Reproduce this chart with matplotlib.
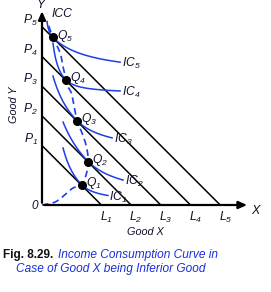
import numpy as np
import matplotlib.pyplot as plt

plt.rcParams['font.family'] = ['Liberation Sans', 'DejaVu Sans']
plt.rcParams['mathtext.fontset'] = 'custom'
plt.rcParams['mathtext.it'] = 'Liberation Sans:italic'
plt.rcParams['mathtext.rm'] = 'Liberation Sans:italic'

# budget lines: intercepts on Y (P1..P5) and X (L1..L5)
income = [2, 3, 4, 5, 6]
p_labels = ['$P_1$', '$P_2$', '$P_3$', '$P_4$', '$P_5$']
l_labels = ['$L_1$', '$L_2$', '$L_3$', '$L_4$', '$L_5$']

# equilibrium points Q1..Q5
q_x = [1.34, 1.56, 1.18, 0.81, 0.37]
q_y = [0.68, 1.46, 2.84, 4.21, 5.64]
q_labels = ['$Q_1$', '$Q_2$', '$Q_3$', '$Q_4$', '$Q_5$']

# indifference curves: left start and right end
ic_start_x = [0.71, 0.71, 0.37, 0.37, 0.17]
ic_start_y = [1.92, 2.79, 4.34, 5.45, 6.16]
ic_end_x = [2.22, 2.73, 2.36, 2.63, 2.63]
ic_end_y = [0.32, 0.84, 2.26, 3.84, 4.81]
ic_labels = ['$IC_1$', '$IC_2$', '$IC_3$', '$IC_4$', '$IC_5$']

# income consumption curve
icc_x = [0, 0.44, 0.77, 1.04, 1.34, 1.5, 1.56, 1.5, 1.35, 1.18, 1.01, 0.88, 0.81, 0.71, 0.61, 0.37, 0.17]
icc_y = [0, 0.1, 0.34, 0.57, 0.68, 1.07, 1.46, 1.95, 2.42, 2.84, 3.7, 3.97, 4.21, 4.65, 5.12, 5.64, 6.2]

blue = '#1c3fe6'
ink = '#10102a'
scale = 29.7  # pixels per unit
W, H = 271, 292
ox, oy = 42, 205

fig = plt.figure(figsize=(W / 100, H / 100), dpi=100)
ax = fig.add_axes([0, 0, 1, 1])
ax.set_xlim(-ox / scale, (W - ox) / scale)
ax.set_ylim(-(H - oy) / scale, oy / scale)
ax.axis('off')


def catmull(xs, ys, n=20):
    pts = np.column_stack([xs, ys]).astype(float)
    pts = np.vstack([pts[0], pts, pts[-1]])
    out = []
    t = np.linspace(0, 1, n)[:, None]
    for i in range(1, len(pts) - 2):
        p0, p1, p2, p3 = pts[i - 1], pts[i], pts[i + 1], pts[i + 2]
        seg = 0.5 * ((2 * p1) + (-p0 + p2) * t + (2 * p0 - 5 * p1 + 4 * p2 - p3) * t ** 2
                     + (-p0 + 3 * p1 - 3 * p2 + p3) * t ** 3)
        out.append(seg)
    out = np.vstack(out)
    return out[:, 0], out[:, 1]


def branch(qx, qy, px, py):
    # rectangular hyperbola with slope -1 at Q, passing through (px, py)
    dx, dy = px - qx, py - qy
    d = -dx * dy / (dx + dy)
    xs = np.linspace(qx, px, 60)
    u = xs - qx
    return xs, qy - u * d / (u + d)


# axes with arrows
ax.annotate('', xy=(7.0, 0), xytext=(-0.02, 0),
            arrowprops=dict(arrowstyle='-|>,head_length=0.5,head_width=0.22', color='black', lw=1.6))
ax.annotate('', xy=(0, 6.62), xytext=(0, -0.02),
            arrowprops=dict(arrowstyle='-|>,head_length=0.5,head_width=0.22', color='black', lw=1.6))
ax.text(7.2, -0.2, 'X', fontsize=9, style='italic', color=ink, ha='center', va='center')
ax.text(-0.05, 6.72, 'Y', fontsize=9, style='italic', color=ink, ha='center', va='center')
ax.text(-0.25, -0.05, '0', fontsize=8.5, style='italic', color=ink, ha='center', va='center')
ax.text(3.47, -0.9, 'Good X', fontsize=7.8, style='italic', color=ink, ha='center', va='center')
ax.text(-0.93, 3.37, 'Good Y', fontsize=7.8, style='italic', color=ink, ha='center', va='center',
        rotation=90)

# budget lines
for k, pl, ll in zip(income, p_labels, l_labels):
    ax.plot([0, k], [k, 0], color='black', lw=1.1, solid_capstyle='butt')
    ax.text(-0.38, k + 0.22, pl, fontsize=8.7, color=ink, ha='center', va='center')
    ax.text(k + 0.17, -0.42, ll, fontsize=8.7, color=ink, ha='center', va='center')

# indifference curves
for i in range(5):
    xl, yl = branch(q_x[i], q_y[i], ic_start_x[i], ic_start_y[i])
    xr, yr = branch(q_x[i], q_y[i], ic_end_x[i], ic_end_y[i])
    ax.plot(xl, yl, color=blue, lw=1.1)
    ax.plot(xr, yr, color=blue, lw=1.1)
    ax.text(ic_end_x[i] + 0.05, ic_end_y[i] - 0.05, ic_labels[i], fontsize=8.7, color=ink,
            ha='left', va='center')

# ICC
cx, cy = catmull(icc_x, icc_y)
ax.plot(cx, cy, color=blue, lw=1.2, ls=(0, (4, 2.5)))
ax.text(0.67, 6.42, 'ICC', fontsize=8.7, style='italic', color=ink, ha='center', va='center')

# equilibrium points
ax.plot(q_x, q_y, 'o', color='black', ms=5.5)
for x, y, lab in zip(q_x, q_y, q_labels):
    ax.text(x + 0.14, y + 0.05, lab, fontsize=8.7, color=ink, ha='left', va='center')

# caption
fig.text(3 / W, 1 - 255 / H, 'Fig. 8.29.', fontsize=8.5, weight='bold', color='#101018',
         ha='left', va='center')
fig.text(58 / W, 1 - 255 / H, 'Income Consumption Curve in', fontsize=8.6, style='italic',
         color='#1830d8', ha='left', va='center')
fig.text(16 / W, 1 - 269 / H, 'Case of Good X being Inferior Good', fontsize=8.6, style='italic',
         color='#1830d8', ha='left', va='center')

fig.savefig('out.png', dpi=100)
